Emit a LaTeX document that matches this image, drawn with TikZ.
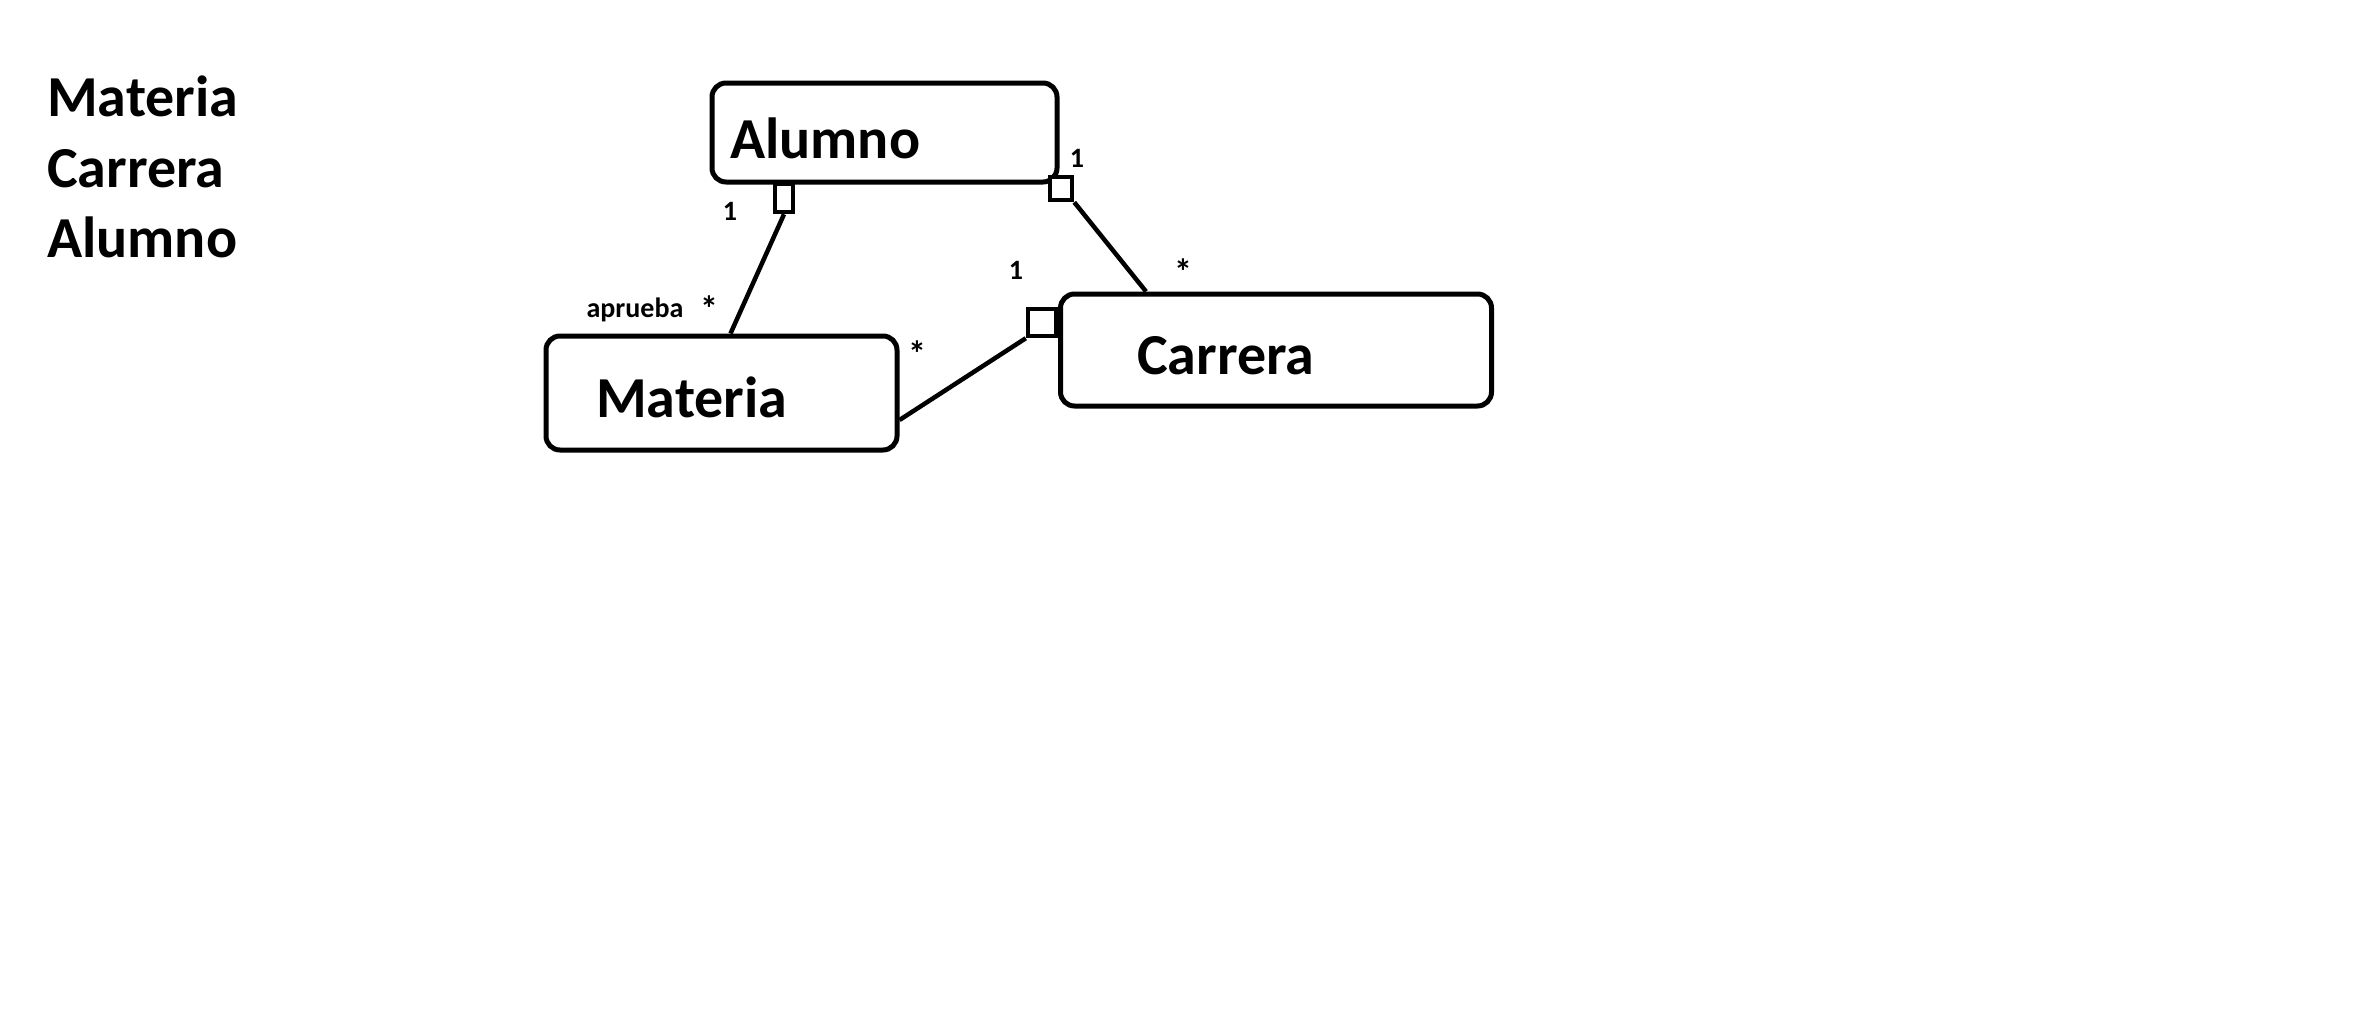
\documentclass[tikz,border=0pt]{standalone}
\usepackage{fontspec}
\setmainfont{Carlito}
\begin{document}
\begin{tikzpicture}[x=1pt,y=-1pt,
  box/.style={draw, line width=5pt, rounded corners=14pt, inner sep=0pt},
  big/.style={font=\bfseries\fontsize{58}{70}\selectfont, inner sep=0pt, anchor=base west},
  small/.style={font=\bfseries\fontsize{28}{34}\selectfont, inner sep=0pt},
  star/.style={font=\bfseries\fontsize{36}{40}\selectfont, inner sep=0pt},
  sq/.style={draw, line width=4.5pt, fill=white, inner sep=0pt},
  conn/.style={line width=4.5pt}]
\useasboundingbox[fill=white] (0,0) rectangle (2360,1021);

% left list
\node[big] (l1) at (47,116) {Materia};
\node[big] (l2) at (47,187) {Carrera};
\node[big] (l3) at (47,257) {Alumno};

% boxes
\node[box, minimum width=345pt, minimum height=99pt] (alumno) at (884.5,132.5) {};
\node[box, minimum width=351pt, minimum height=114pt] (materia) at (721.5,393) {};
\node[box, minimum width=431pt, minimum height=112pt] (carrera) at (1276,350) {};

\node[big] (talumno) at (730,158) {Alumno};
\node[big] (tmateria) at (596,417) {Materia};
\node[big] (tcarrera) at (1137,374) {Carrera};

% squares
\node[sq, minimum width=18pt, minimum height=28pt] (sqa) at (784,198) {};
\node[sq, minimum width=22pt, minimum height=23pt] (sqb) at (1061,188.5) {};
\node[sq, minimum width=28pt, minimum height=27pt] (sqc) at (1042,322.5) {};

% connectors
\draw[conn] (sqa.south) -- ([xshift=9pt]materia.north);
\draw[conn] (sqb.south east) -- ([xshift=88pt]carrera.north west);
\draw[conn] (sqc.south west) -- ([yshift=-27pt]materia.east);

% multiplicities
\node[small] (m1) at (730,211) {1};
\node[small] (m2) at (1077,158) {1};
\node[star] (m3) at (1183,272) {*};
\node[small] (m4) at (1016,270) {1};
\node[small] (m5) at (635,310) {aprueba};
\node[star] (m6) at (709,309) {*};
\node[star] (m7) at (917,354) {*};
\end{tikzpicture}
\end{document}
